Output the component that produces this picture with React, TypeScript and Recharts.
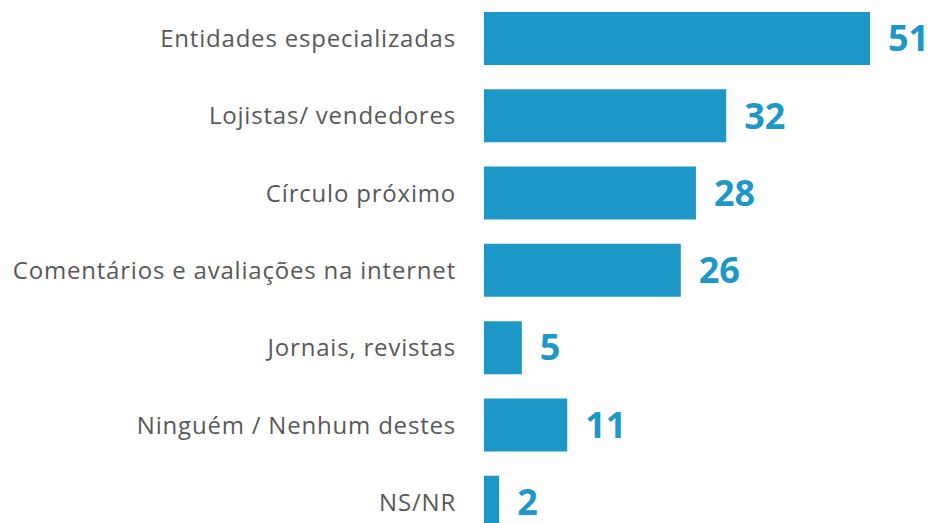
import { BarChart, Bar, XAxis, YAxis, LabelList } from 'recharts'

const categories = [
  'Entidades especializadas',
  'Lojistas/ vendedores',
  'Círculo próximo',
  'Comentários e avaliações na internet',
  'Jornais, revistas',
  'Ninguém / Nenhum destes',
  'NS/NR',
]

const values = [51, 32, 28, 26, 5, 11, 2]

const BLUE = '#1c97c7'
const GREY = '#595959'

const chartData = categories.map((name, i) => ({ name, value: values[i] }))

export default function App() {
  return (
    <div
      style={{
        position: 'absolute',
        top: 0,
        left: 0,
        width: 935,
        height: 523,
        overflow: 'hidden',
        background: '#fff',
      }}
    >
      <BarChart
        width={935}
        height={541}
        data={chartData}
        layout="vertical"
        margin={{ top: 0, right: 12, left: 0, bottom: 0 }}
        barSize={53}
      >
        <XAxis type="number" domain={[0, 58]} hide />
        <YAxis
          type="category"
          dataKey="name"
          width={484}
          axisLine={false}
          tickLine={false}
          tickSize={0}
          tickMargin={28}
          tick={{
            fontSize: 24,
            fill: GREY,
            fontFamily: 'Open Sans',
            letterSpacing: 0.8,
          }}
          interval={0}
        />
        <Bar dataKey="value" fill={BLUE} isAnimationActive={false}>
          <LabelList
            dataKey="value"
            position="right"
            offset={18}
            style={{
              fontSize: 36,
              fontWeight: 700,
              fill: BLUE,
              fontFamily: 'Open Sans',
            }}
          />
        </Bar>
      </BarChart>
    </div>
  )
}
